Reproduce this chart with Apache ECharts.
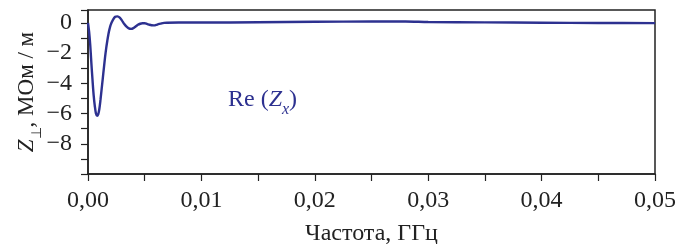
<!DOCTYPE html>
<html lang="ru">
<head>
    <meta charset="UTF-8">
    <title>Re(Zx)</title>
    <script type="text/javascript" src="https://cdn.jsdelivr.net/npm/echarts@6/dist/echarts.min.js"></script>
</head>
<body style="margin:0">
<div id="chartmain" style="width:680px;height:244px"></div>
<script>
    // частота, ГГц
    var freq = [0, 0.0001, 0.0002, 0.0003, 0.0004, 0.0005, 0.0006, 0.0007, 0.0008, 0.0009,
        0.0010, 0.0011, 0.0012, 0.0013, 0.0014, 0.0015, 0.0016, 0.0017, 0.0018, 0.0019,
        0.0020, 0.0022, 0.0024, 0.0026, 0.0028, 0.0030, 0.0032, 0.0034, 0.0036, 0.0038,
        0.0040, 0.0042, 0.0044, 0.0046, 0.0048, 0.0050, 0.0052, 0.0054, 0.0056, 0.0058,
        0.0060, 0.0062, 0.0064, 0.0067, 0.0080, 0.010, 0.015, 0.020, 0.025, 0.028,
        0.030, 0.035, 0.040, 0.045, 0.050];
    // Re(Zx), МОм/м
    var reZ = [0, -0.6, -1.5, -2.7, -3.8, -4.8, -5.5, -6.0, -6.15, -6.05,
        -5.7, -5.1, -4.4, -3.7, -3.0, -2.3, -1.7, -1.2, -0.75, -0.4,
        -0.13, 0.2, 0.4, 0.43, 0.35, 0.15, -0.08, -0.25, -0.37, -0.4,
        -0.35, -0.24, -0.13, -0.06, -0.03, -0.03, -0.07, -0.12, -0.16, -0.17,
        -0.14, -0.09, -0.05, 0.0, 0.02, 0.02, 0.04, 0.07, 0.09, 0.09,
        0.06, 0.03, 0.01, -0.01, -0.02];
    var xTicks = ['0,00', '0,01', '0,02', '0,03', '0,04', '0,05'];
    var yTicks = [0, -2, -4, -6, -8];

    var pts = [];
    for (var i = 0; i < freq.length; i++) {
        pts.push([freq[i], reZ[i]]);
    }

    var font = 'Liberation Serif';
    var fs = 24;
    var ink = '#222';
    var lineColor = '#2d3190';

    var option = {
        animation: false,
        grid: {
            left: 88, right: 25, top: 10, bottom: 70,
            outerBoundsMode: 'none',
            show: true, borderColor: ink, borderWidth: 1.5
        },
        xAxis: {
            type: 'value',
            min: 0, max: 0.05, interval: 0.005,
            name: 'Частота, ГГц',
            nameLocation: 'middle',
            nameGap: 48,
            nameTextStyle: {fontFamily: font, fontSize: fs, color: ink},
            axisLine: {show: true, onZero: false, lineStyle: {color: ink, width: 1.5}},
            axisTick: {show: true, inside: false, length: 7, lineStyle: {color: ink, width: 1.2}},
            splitLine: {show: false},
            axisLabel: {
                margin: 15,
                fontFamily: font, fontSize: fs, color: ink,
                formatter: function (v) {
                    var k = Math.round(v * 1000);
                    if (k % 10 !== 0) return '';
                    return xTicks[k / 10];
                }
            }
        },
        yAxis: {
            type: 'value',
            min: -10, max: 0.85, interval: 1,
            name: '{i|Z}{s|⊥}, МОм / м',
            nameLocation: 'middle',
            nameGap: 50,
            nameMoveOverlap: false,
            nameTextStyle: {
                fontFamily: font, fontSize: fs - 1, color: ink,
                rich: {
                    i: {fontFamily: font, fontSize: fs - 1, fontStyle: 'italic', color: ink},
                    s: {fontFamily: font, fontSize: 14, color: ink, verticalAlign: 'bottom', padding: [0, 0, -6, 0]}
                }
            },
            axisLine: {show: true, onZero: false, lineStyle: {color: ink, width: 1.5}},
            axisTick: {show: true, inside: false, length: 7, lineStyle: {color: ink, width: 1.2}},
            splitLine: {show: false},
            axisLabel: {
                margin: 16,
                fontFamily: font, fontSize: fs, color: ink,
                formatter: function (v) {
                    var r = Math.round(v);
                    if (Math.abs(v - r) > 1e-6 || yTicks.indexOf(r) < 0) return '';
                    return r === 0 ? '0' : '\u2212' + Math.abs(r);
                }
            }
        },
        graphic: [{
            type: 'text',
            left: 228, top: 88,
            style: {
                text: 'Re ({i|Z}{s|x})',
                font: fs + 'px "Liberation Serif"',
                fill: lineColor,
                rich: {
                    i: {fontFamily: font, fontSize: fs, fontStyle: 'italic', fill: lineColor},
                    s: {fontFamily: font, fontSize: 16, fontStyle: 'italic', fill: lineColor, verticalAlign: 'bottom', padding: [0, 0, -6, 0]}
                }
            }
        }],
        series: [{
            name: 'Re(Zx)',
            type: 'line',
            data: pts,
            smooth: 0.3,
            showSymbol: false,
            lineStyle: {color: lineColor, width: 2.4}
        }]
    };

    var myChart = echarts.init(document.getElementById('chartmain'));
    myChart.setOption(option);
</script>
</body>
</html>
